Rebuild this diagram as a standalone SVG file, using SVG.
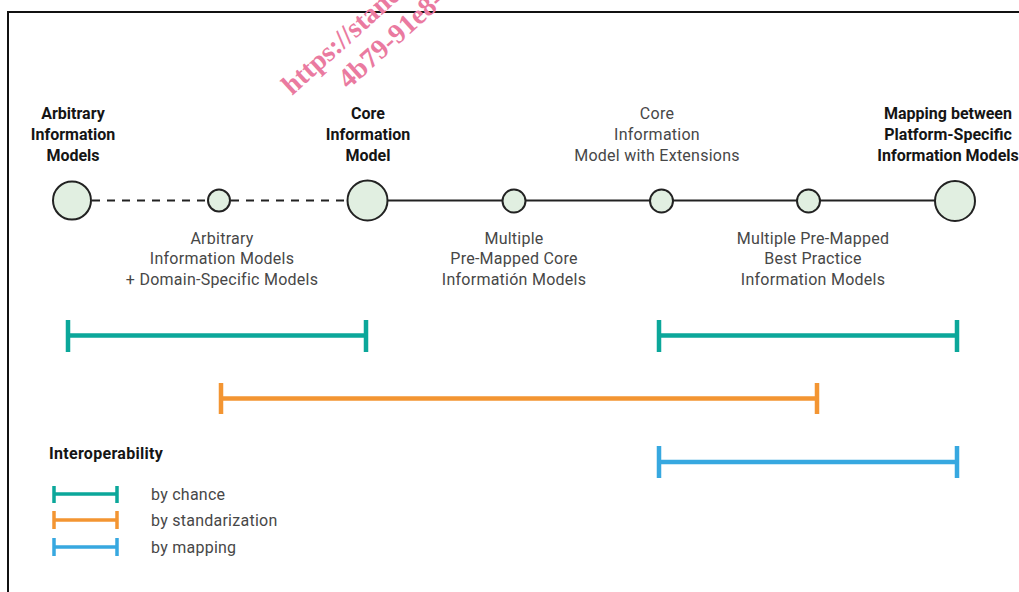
<svg xmlns="http://www.w3.org/2000/svg" width="1019" height="592" viewBox="0 0 1019 592">
<defs>
<style>
.bg{fill:#ffffff}
.frame{fill:none;stroke:#111;stroke-width:2}
.node{fill:#e1efe1;stroke:#222;stroke-width:2}
.link{stroke:#222;stroke-width:1.8;fill:none}
.dash{stroke-dasharray:8 7}
.tb{font-family:Roboto,"Liberation Sans",sans-serif;font-size:16px;font-weight:bold;fill:#151515;text-anchor:middle}
.tr{font-family:Roboto,"Liberation Sans",sans-serif;font-size:16px;letter-spacing:0.25px;fill:#474747;text-anchor:middle}
.leg{font-family:Roboto,"Liberation Sans",sans-serif;font-size:16px;letter-spacing:0.25px;fill:#474747}
.legh{font-family:Roboto,"Liberation Sans",sans-serif;font-size:16px;letter-spacing:0.3px;font-weight:bold;fill:#151515}
.teal{stroke:#0ba79a;fill:none}
.orange{stroke:#f39532;fill:none}
.blue{stroke:#37a8e0;fill:none}
.bar{stroke-width:4.5}
.lbar{stroke-width:3.5}
.wm{font-family:"Liberation Serif",serif;font-size:28px;font-weight:bold;fill:#ea7aa0}
</style>
</defs>
<rect class="bg" x="0" y="0" width="1019" height="592"/>
<path class="frame" d="M8,600 V12 H1030"/>

<g id="connectors">
<line class="link dash" x1="92" y1="200.5" x2="208" y2="200.5"/>
<line class="link dash" x1="231" y1="200.5" x2="347" y2="200.5"/>
<line class="link" x1="388" y1="200.5" x2="935" y2="200.5"/>
</g>

<g id="n1"><circle class="node" cx="72" cy="200.5" r="19"/>
<text class="tb" x="73" y="119">Arbitrary</text><text class="tb" x="73" y="140">Information</text><text class="tb" x="73" y="161">Models</text></g>
<g id="n2"><circle class="node" cx="219" cy="200.5" r="11"/>
<text class="tr" x="222" y="243.5">Arbitrary</text><text class="tr" x="222" y="264">Information Models</text><text class="tr" x="222" y="284.5">+ Domain-Specific Models</text></g>
<g id="n3"><circle class="node" cx="367.5" cy="200.5" r="20"/>
<text class="tb" x="368" y="119">Core</text><text class="tb" x="368" y="140">Information</text><text class="tb" x="368" y="161">Model</text></g>
<g id="n4"><circle class="node" cx="514" cy="201" r="11.5"/>
<text class="tr" x="514" y="243.5">Multiple</text><text class="tr" x="514" y="264">Pre-Mapped Core</text><text class="tr" x="514" y="284.5">Informatión Models</text></g>
<g id="n5"><circle class="node" cx="661.5" cy="201" r="11.5"/>
<text class="tr" x="657" y="119">Core</text><text class="tr" x="657" y="140">Information</text><text class="tr" x="657" y="161">Model with Extensions</text></g>
<g id="n6"><circle class="node" cx="808.5" cy="201" r="11.5"/>
<text class="tr" x="813" y="243.5">Multiple Pre-Mapped</text><text class="tr" x="813" y="264">Best Practice</text><text class="tr" x="813" y="284.5">Information Models</text></g>
<g id="n7"><circle class="node" cx="955" cy="201" r="20"/>
<text class="tb" x="948" y="119">Mapping between</text><text class="tb" x="948" y="140">Platform-Specific</text><text class="tb" x="948" y="161">Information Models</text></g>

<g id="bars">
<path class="teal bar" d="M68,320 V352 M68,335.5 H366 M366,320 V352"/>
<path class="orange bar" d="M221,383 V414 M221,398.5 H817 M817,383 V414"/>
<path class="teal bar" d="M659,320 V352 M659,335.5 H957 M957,320 V352"/>
<path class="blue bar" d="M659,446 V478 M659,462 H957 M957,446 V478"/>
</g>

<g id="legend">
<text class="legh" x="49" y="459">Interoperability</text>
<path class="teal lbar" d="M54,486 V503 M54,494 H117 M117,486 V503"/>
<path class="orange lbar" d="M54,511 V529 M54,520 H117 M117,511 V529"/>
<path class="blue lbar" d="M54,538 V556 M54,547 H117 M117,538 V556"/>
<text class="leg" x="151" y="500">by chance</text>
<text class="leg" x="151" y="526">by standarization</text>
<text class="leg" x="151" y="553">by mapping</text>
</g>

<g id="watermark" transform="translate(292,96) rotate(-42)">
<text class="wm" x="0" y="0">https://stand</text>
<text class="wm" x="46" y="33">4b79-91e8-</text>
</g>
</svg>
